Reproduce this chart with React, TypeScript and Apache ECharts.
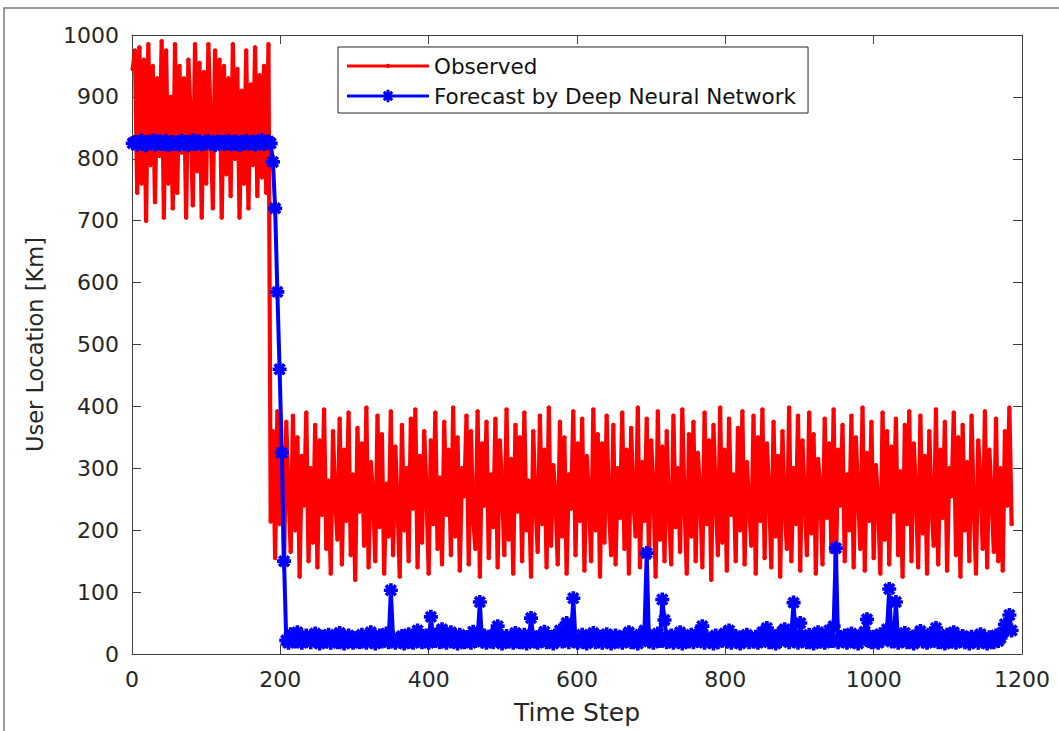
import React, { useEffect, useRef } from "react";
import * as echarts from "echarts";

// Time steps: first step and spacing of the sampled points
const timeStart = 1;
const timeStep = 3;

const seriesNames = ["Observed", "Forecast by Deep Neural Network"];

// Observed user location [Km], one value per sampled time step
const observed = [
  945, 975, 745, 980, 760, 960, 700, 985, 790, 950, 730, 930, 805, 990, 705, 975, 760, 900, 720, 985,
  745, 950, 810, 930, 705, 960, 870, 725, 985, 780, 955, 705, 940, 760, 985, 860, 720, 975, 830, 960,
  705, 950, 775, 930, 740, 985, 800, 945, 705, 910, 760, 975, 720, 920, 790, 980, 740, 935, 770, 950,
  745, 985,
  214, 360, 155, 392, 210, 330, 140, 375, 260, 165, 385, 200, 350, 125, 320, 240, 390, 150, 300, 180,
  370, 140, 345, 225, 395, 170, 280, 130, 360, 250, 185, 380, 145, 330, 215, 390, 160, 290, 120, 365,
  230, 340, 175, 398, 140, 310, 260, 150, 385, 205, 355, 130, 275, 190, 392, 160, 335, 245, 125, 370,
  200, 300, 150, 380, 235, 395, 140, 320, 180, 360, 265, 130, 345, 210, 390, 170, 285, 145, 375, 225,
  330, 160, 398, 190, 350, 135, 300, 255, 385, 145, 360, 220, 170, 392, 125, 340, 240, 375, 155, 290,
  205, 380, 140, 345, 270, 160, 395, 185, 315, 130, 370, 230, 350, 150, 390, 200, 280, 125, 360, 245,
  165, 385, 210, 330, 140, 398, 175, 305, 255, 145, 375, 190, 350, 130, 290, 235, 392, 160, 340, 215,
  380, 135, 320, 260, 150, 395, 200, 355, 125, 340, 180, 385, 240, 160, 370, 145, 300, 220, 390, 170,
  330, 130, 365, 250, 190, 398, 140, 310, 215, 380, 155, 345, 270, 125, 392, 185, 335, 150, 360, 230,
  145, 385, 205, 300, 165, 395, 240, 130, 355, 190, 375, 150, 325, 260, 140, 390, 210, 345, 120, 370,
  255, 160, 398, 180, 330, 135, 380, 225, 290, 150, 365, 200, 392, 145, 310, 245, 175, 385, 130, 350,
  215, 395, 155, 340, 265, 140, 375, 190, 320, 125, 360, 235, 170, 398, 150, 300, 210, 385, 135, 345,
  250, 160, 390, 195, 355, 130, 315, 270, 145, 380, 220, 340, 165, 395, 125, 330, 240, 370, 150, 290,
  200, 385, 140, 350, 260, 170, 398, 135, 325, 215, 375, 155, 305, 245, 130, 390, 185, 360, 145, 335,
  230, 380, 160, 295, 125, 370, 210, 392, 150, 340, 265, 140, 385, 195, 320, 130, 360, 240, 175, 395,
  145, 330, 220, 375, 135, 300, 255, 390, 160, 350, 125, 370, 200, 310, 150, 385, 235, 130, 345, 280,
  170, 392, 140, 330, 255, 165, 380, 150, 300, 135, 360, 240, 398, 210,
];

// Forecast by deep neural network [Km], same time steps
const forecast = [
  825, 827, 823, 826, 829, 824, 822, 827, 825, 830, 823, 826, 828, 824, 826, 829, 822, 825, 827, 824,
  826, 823, 829, 825, 827, 822, 826, 830, 824, 826, 828, 823, 825, 827, 829, 824, 826, 822, 828, 825,
  827, 824, 826, 829, 823, 825, 828, 826, 822, 827, 825, 829, 824, 826, 828, 823, 827, 825, 830, 824,
  826, 828, 825, 795, 720, 585, 460, 325, 150, 22, 18, 32, 25, 20, 35, 28, 18, 22, 30, 24,
  19, 26, 33, 21, 17, 28, 24, 20, 31, 18, 23, 27, 19, 34, 22, 17, 25, 30, 21, 18,
  26, 22, 19, 31, 24, 18, 28, 35, 21, 17, 25, 30, 20, 23, 33, 19, 103, 26, 18, 24,
  21, 29, 17, 25, 32, 20, 18, 27, 38, 22, 19, 24, 30, 18, 60, 26, 21, 33, 19, 40,
  23, 18, 28, 35, 20, 25, 17, 31, 22, 19, 27, 24, 18, 36, 21, 26, 84, 20, 30, 18,
  24, 28, 19, 33, 45, 21, 17, 25, 29, 20, 23, 18, 34, 26, 19, 22, 31, 17, 24, 58,
  27, 20, 18, 29, 23, 36, 19, 25, 21, 17, 30, 24, 38, 20, 26, 50, 19, 28, 90, 22,
  18, 25, 31, 20, 17, 27, 23, 34, 19, 22, 28, 18, 25, 32, 21, 17, 26, 30, 20, 24,
  18, 29, 22, 35, 19, 26, 21, 17, 31, 24, 38, 163, 20, 27, 18, 23, 33, 21, 88, 55,
  19, 26, 30, 18, 24, 21, 35, 17, 28, 23, 20, 31, 19, 25, 22, 37, 45, 18, 27, 21,
  24, 17, 30, 19, 26, 22, 33, 20, 38, 18, 25, 29, 21, 17, 27, 23, 31, 19, 24, 20,
  28, 18, 22, 35, 26, 42, 19, 31, 24, 17, 29, 21, 36, 40, 23, 19, 33, 83, 25, 18,
  50, 22, 27, 19, 31, 24, 17, 26, 35, 20, 23, 18, 29, 38, 21, 45, 171, 19, 25, 22,
  30, 18, 24, 33, 20, 27, 17, 23, 31, 36, 56, 21, 19, 28, 24, 18, 32, 22, 26, 40,
  105, 20, 25, 84, 18, 29, 23, 34, 19, 26, 21, 17, 30, 24, 37, 20, 28, 18, 25, 33,
  22, 42, 19, 27, 21, 17, 31, 24, 20, 35, 18, 26, 22, 29, 19, 23, 17, 28, 21, 25,
  18, 32, 20, 24, 17, 27, 22, 19, 30, 21, 26, 35, 48, 40, 63, 38,
];

const xMin = 0;
const xMax = 1200;
const xInterval = 200;
const yMin = 0;
const yMax = 1000;
const yInterval = 100;

const FONT = "DejaVu Sans";
const AXIS_COLOR = "#404040";
const LABEL_COLOR = "#262626";

// asterisk marker (4 crossing bars)
const ASTERISK =
  "path://M-5,-1.3L5,-1.3L5,1.3L-5,1.3Z M-1.3,-5L1.3,-5L1.3,5L-1.3,5Z M-2.62,-4.45L4.45,2.62L2.62,4.45L-4.45,-2.62Z M-4.45,2.62L2.62,-4.45L4.45,-2.62L-2.62,4.45Z";

// legend icon for "Observed": a line with a small dot in the middle (82 x 14 box)
const OBS_LEGEND_ICON =
  "path://M0,0L0.01,0L0,0.01Z M82,14L81.99,14L82,13.99Z M0,5.6L82,5.6L82,8.4L0,8.4Z M38.8,7A2.2,2.2 0 1 1 43.2,7A2.2,2.2 0 1 1 38.8,7Z";

// legend icon for the forecast: a line with an asterisk in the middle (82 x 14 box)
const FC_LEGEND_ICON =
  "path://M0,0L0.01,0L0,0.01Z M82,14L81.99,14L82,13.99Z M0,5.5L82,5.5L82,8.5L0,8.5Z M34.8,5.5L47.2,5.5L47.2,8.5L34.8,8.5Z M39.5,0.8L42.5,0.8L42.5,13.2L39.5,13.2Z M37.77,1.74L46.26,10.23L44.23,12.26L35.74,3.77Z M35.74,10.23L44.23,1.74L46.26,3.77L37.77,12.26Z";

const plainNumber = (v: number) => String(v);

export default function App() {
  const ref = useRef<HTMLDivElement>(null);

  useEffect(() => {
    document.body.style.margin = "0";
    const chart = echarts.init(ref.current!, null, { renderer: "svg" });

    const obsData = observed.map((v, i) => [timeStart + i * timeStep, v]);
    const fcData = forecast.map((v, i) => [timeStart + i * timeStep, v]);

    const boxAxis = {
      type: "value",
      min: xMin,
      max: xMax,
      interval: xInterval,
      axisLine: { show: true, onZero: false, lineStyle: { color: AXIS_COLOR, width: 1 } },
      axisTick: { show: true, inside: true, length: 9, lineStyle: { color: AXIS_COLOR, width: 1 } },
      splitLine: { show: false },
    };

    chart.setOption({
      animation: false,
      backgroundColor: "#ffffff",
      grid: { left: 132, right: 37, top: 35, bottom: 77, containLabel: false },
      legend: {
        orient: "vertical",
        left: 338,
        top: 47,
        padding: [8, 12, 6, 9],
        itemGap: 8,
        itemWidth: 82,
        itemHeight: 14,
        backgroundColor: "#ffffff",
        borderColor: "#262626",
        borderWidth: 1,
        borderRadius: 0,
        itemStyle: { borderWidth: 0 },
        textStyle: { fontFamily: FONT, fontSize: 21.5, color: "#111", lineHeight: 22 },
        data: [
          { name: seriesNames[0], icon: OBS_LEGEND_ICON },
          { name: seriesNames[1], icon: FC_LEGEND_ICON },
        ],
      },
      xAxis: [
        {
          ...boxAxis,
          position: "bottom",
          axisLabel: { show: true, fontFamily: FONT, fontSize: 22, color: LABEL_COLOR, margin: 14, formatter: plainNumber },
          name: "Time Step",
          nameLocation: "middle",
          nameGap: 46,
          nameTextStyle: { fontFamily: FONT, fontSize: 25, color: LABEL_COLOR },
        },
        {
          ...boxAxis,
          position: "top",
          axisLabel: { show: false },
        },
      ],
      yAxis: [
        {
          ...boxAxis,
          min: yMin,
          max: yMax,
          interval: yInterval,
          position: "left",
          axisLabel: { show: true, fontFamily: FONT, fontSize: 22, color: LABEL_COLOR, margin: 13, formatter: plainNumber },
          name: "User Location [Km]",
          nameLocation: "middle",
          nameGap: 86,
          nameTextStyle: { fontFamily: FONT, fontSize: 22.5, color: LABEL_COLOR },
        },
        {
          ...boxAxis,
          min: yMin,
          max: yMax,
          interval: yInterval,
          position: "right",
          axisLabel: { show: false },
        },
      ],
      graphic: [
        {
          type: "rect",
          silent: true,
          z: -10,
          shape: { x: 4, y: 8, width: 1200, height: 1000 },
          style: { fill: "none", stroke: "#7a7a7a", lineWidth: 1.5 },
        },
      ],
      series: [
        {
          name: seriesNames[0],
          type: "line",
          xAxisIndex: 0,
          yAxisIndex: 0,
          data: obsData,
          symbol: "circle",
          symbolSize: 4.5,
          showSymbol: true,
          showAllSymbol: true,
          lineStyle: { color: "#ff0000", width: 4.2 },
          itemStyle: { color: "#ff0000" },
          z: 2,
        },
        {
          name: seriesNames[1],
          type: "line",
          xAxisIndex: 0,
          yAxisIndex: 0,
          data: fcData,
          symbol: ASTERISK,
          symbolSize: 14,
          showSymbol: true,
          showAllSymbol: true,
          lineStyle: { color: "#0000ff", width: 4 },
          itemStyle: { color: "#0000ff" },
          z: 3,
        },
      ],
    });

    return () => chart.dispose();
  }, []);

  return <div ref={ref} style={{ width: 1059, height: 731 }} />;
}
